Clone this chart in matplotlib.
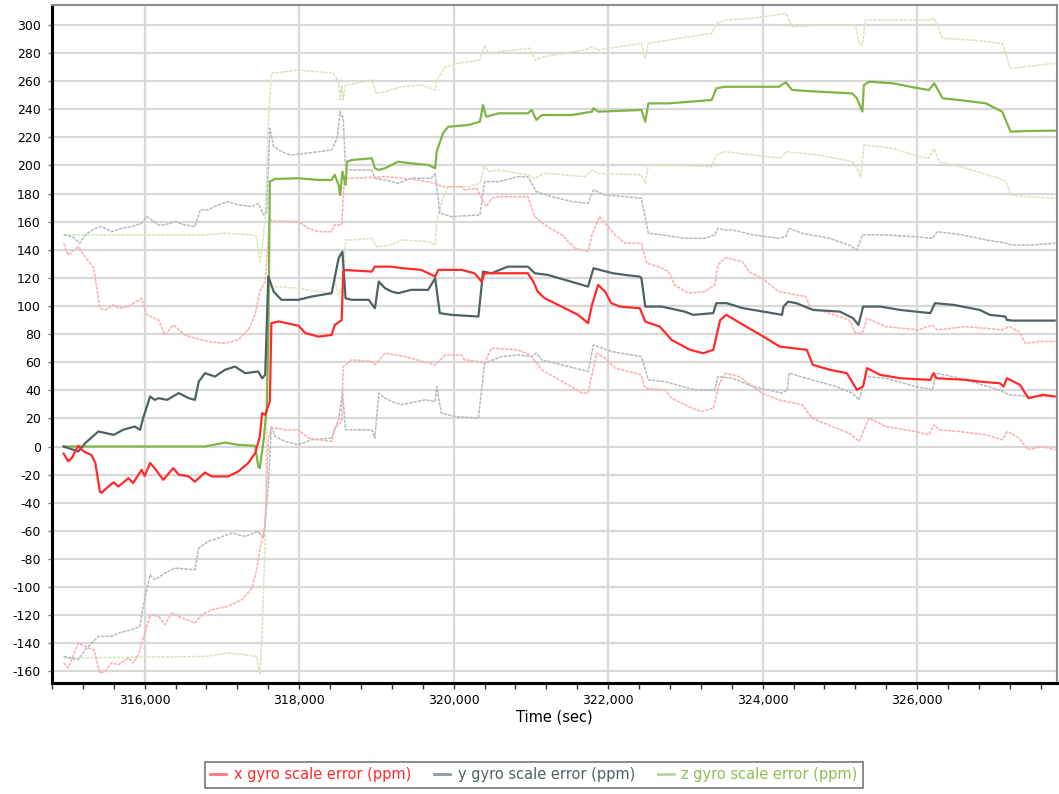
import matplotlib
matplotlib.use("Agg")
import matplotlib.pyplot as plt
import matplotlib.ticker as mticker
from matplotlib.lines import Line2D

plt.rcParams["axes.unicode_minus"] = False

# x gyro scale error (ppm): estimate and +/- bounds
xm_t = [314950, 315010, 315060, 315090, 315140, 315210, 315310, 315360, 315420, 315440,
        315530, 315600, 315660, 315790, 315850, 315960, 316000, 316070, 316130, 316240,
        316370, 316440, 316570, 316650, 316780, 316870, 317080, 317210, 317340, 317430,
        317490, 317520, 317560, 317620, 317640, 317730, 317990, 318080, 318250, 318420,
        318460, 318550, 318570, 318600, 318940, 318980, 319200, 319320, 319580, 319760,
        319800, 320100, 320270, 320360, 320400, 320960, 321030, 321090, 321180, 321440,
        321610, 321740, 321790, 321870, 321960, 322040, 322150, 322410, 322480, 322670,
        322820, 323060, 323230, 323360, 323450, 323530, 323750, 324010, 324220, 324570,
        324650, 324870, 325090, 325220, 325300, 325350, 325520, 325780, 326170, 326210,
        326250, 326640, 326810, 327070, 327120, 327160, 327330, 327440, 327630, 327780]
xm_v = [-5, -10.5, -8, -4.5, 0.5, -3.5, -6, -11.6, -32, -33,
        -28.5, -25.5, -28.5, -22.5, -26, -16.6, -21, -11.8, -15.4, -23.7,
        -15.4, -20, -21.3, -25, -18.5, -21.3, -21.3, -17.8, -11.8, -4.7,
        7, 23.8, 22.5, 32, 87.8, 89, 86, 80.7, 78.2, 79.4,
        86.5, 90, 124.5, 125.6, 124.5, 128, 128, 127, 125.7, 121,
        125.7, 125.7, 123.3, 117.4, 123.3, 123.3, 117.4, 110, 105.5, 98.4,
        93.7, 87.8, 100.8, 115, 110.2, 102, 99.6, 98.4, 88.9, 85.3,
        75.9, 68.8, 66.4, 68.8, 90, 93.7, 86.5, 78.2, 71.1, 68.8,
        58.1, 54.6, 52.2, 40.3, 42.7, 55.8, 51, 48.6, 47.4, 52.2,
        48.6, 47.4, 46.2, 45, 42.7, 48.6, 43.9, 34.4, 36.8, 35.6]

xu_t = [314950, 315010, 315140, 315230, 315340, 315420, 315490, 315600, 315660, 315790,
        315960, 316030, 316180, 316260, 316370, 316520, 316650, 316820, 317040, 317210,
        317340, 317430, 317490, 317560, 317620, 317640, 317990, 318120, 318250, 318420,
        318460, 318550, 318585, 318680, 319110, 319320, 319540, 319760, 319860, 320100,
        320140, 320300, 320360, 320420, 320490, 320580, 320960, 321050, 321180, 321400,
        321570, 321740, 321790, 321890, 321960, 322090, 322220, 322430, 322500, 322650,
        322780, 322860, 323040, 323250, 323380, 323420, 323510, 323560, 323740, 323820,
        323990, 324210, 324560, 324620, 324860, 325120, 325200, 325290, 325350, 325590,
        326020, 326200, 326260, 326630, 327100, 327190, 327320, 327400, 327580, 327790]
xu_v = [144.7, 136.3, 142.2, 135, 126.9, 98.4, 97.2, 100.8, 98.4, 99.6,
        105.5, 93.7, 90.1, 79.4, 86.5, 79.4, 77.1, 74.7, 73.5, 75.9,
        83, 93.7, 110.2, 117.4, 162.4, 160.5, 160, 155.3, 152.9, 152.9,
        157.7, 157.7, 190.9, 190.9, 192, 190.9, 189.7, 187.3, 184.9, 184.9,
        182.6, 183.8, 176.7, 170.7, 176.7, 177.8, 177.8, 163.6, 157.7, 150.6,
        141.1, 138.7, 150.6, 163.6, 158.9, 150.6, 144.7, 144.7, 130.4, 128,
        124.5, 115, 109.1, 110.2, 115, 129.2, 134, 134, 131.6, 124.5,
        119.8, 110.2, 106.7, 98.4, 94.9, 90.1, 80.7, 80.7, 91.3, 85.3,
        83, 86.5, 83, 85.3, 83, 85.3, 81.8, 73.5, 74.7, 74.7]

xl_t = [314950, 315010, 315080, 315140, 315270, 315340, 315420, 315490, 315570, 315660,
        315790, 315850, 315920, 315960, 316030, 316070, 316180, 316260, 316350, 316480,
        316650, 316740, 316870, 317080, 317260, 317390, 317450, 317490, 317560, 317600,
        317640, 317730, 317820, 317990, 318120, 318250, 318420, 318460, 318550, 318570,
        318680, 318940, 318980, 319110, 319370, 319760, 319890, 320100, 320140, 320320,
        320400, 320490, 320830, 320990, 321140, 321480, 321660, 321740, 321850, 321960,
        322090, 322430, 322480, 322730, 322820, 323080, 323210, 323360, 323440, 323520,
        323690, 323870, 323990, 324210, 324510, 324640, 324900, 325120, 325250, 325310,
        325380, 325590, 325980, 326150, 326220, 326280, 326540, 326890, 327100, 327170,
        327320, 327430, 327620, 327790]
xl_v = [-154, -157.6, -148.2, -139.9, -143.4, -144.6, -161.2, -160, -154, -155.3,
        -150.5, -154.1, -148.2, -139.9, -128, -119.7, -120.9, -126.8, -118.5, -122,
        -125.6, -119.7, -116.1, -113.8, -109, -100.7, -87.7, -73.5, -55.7, 4.8,
        13, 13, 11.9, 11.9, 6, 4.8, 3.6, 13, 17.8, 56.9,
        61.7, 60.5, 58.1, 66.4, 64, 58.1, 65.2, 65.2, 61.7, 60.5,
        59.3, 70, 68.8, 65.2, 54.6, 43.9, 38, 38, 66.4, 62.9,
        55.8, 51, 41.5, 40.3, 34.4, 27.3, 24.9, 27.3, 45, 52.2,
        49.8, 42.7, 38, 33.2, 29.7, 20.2, 14.2, 9.5, 3.6, 11.9,
        20.2, 14.2, 10.7, 8.3, 15.4, 11.9, 10.7, 8.3, 4.8, 10.7,
        6, -2.3, 0, -2.3]

# y gyro scale error (ppm)
ym_t = [314950, 315140, 315230, 315400, 315600, 315720, 315870, 315940, 315980, 316070,
        316130, 316180, 316290, 316440, 316570, 316650, 316700, 316780, 316910, 317040,
        317170, 317300, 317470, 317520, 317560, 317600, 317670, 317770, 317990, 318160,
        318420, 318510, 318560, 318600, 318680, 318900, 318980, 319030, 319110, 319200,
        319280, 319450, 319670, 319760, 319820, 319970, 320320, 320380, 320490, 320700,
        320960, 321050, 321220, 321440, 321740, 321810, 321890, 322060, 322220, 322410,
        322430, 322480, 322690, 322990, 323100, 323360, 323400, 323530, 323750, 324010,
        324250, 324270, 324330, 324440, 324650, 325000, 325170, 325240, 325300, 325520,
        325780, 326170, 326230, 326470, 326810, 326940, 327140, 327160, 327240, 327500,
        327780]
ym_v = [0, -3.5, 2.4, 10.7, 8.3, 11.9, 14.2, 11.9, 20.2, 35.6,
        33.2, 34.4, 33.2, 38, 34.4, 33.2, 46.2, 52.2, 49.8, 54.6,
        56.9, 52.2, 53.4, 48.6, 51, 121, 110.2, 104.4, 104.4, 106.7,
        109.1, 134, 138.7, 105.5, 104.4, 104.4, 98.4, 117.4, 112.7, 110.2,
        109.1, 111.5, 111.5, 119.8, 94.9, 93.7, 92.5, 124.5, 123.3, 128,
        128, 123.3, 122.1, 118.6, 113.8, 126.9, 125.7, 123.3, 122.1, 120.9,
        119.8, 99.6, 99.6, 96, 93.7, 94.9, 102, 102, 98.4, 96,
        93.7, 99.6, 103.1, 101.9, 97.2, 96, 91.3, 86.5, 99.6, 99.6,
        97.2, 94.9, 102, 100.8, 97.2, 93.7, 92.5, 90.1, 89.6, 89.6,
        89.6]

yu_t = [314950, 315060, 315160, 315230, 315360, 315440, 315570, 315700, 315830, 315960,
        316030, 316090, 316180, 316260, 316390, 316520, 316650, 316720, 316820, 316950,
        317080, 317210, 317390, 317470, 317540, 317580, 317620, 317670, 317820, 317900,
        318080, 318250, 318420, 318490, 318530, 318570, 318600, 318680, 318940, 318980,
        319110, 319200, 319280, 319450, 319710, 319760, 319820, 319970, 320340, 320400,
        320580, 320830, 320960, 321070, 321270, 321530, 321740, 321810, 321960, 322220,
        322430, 322520, 322690, 322990, 323250, 323380, 323420, 323510, 323610, 323870,
        324210, 324300, 324340, 324510, 324860, 325120, 325220, 325290, 325590, 325940,
        326200, 326260, 326580, 326890, 327150, 327210, 327490, 327790]
yu_v = [150.6, 149.4, 144.7, 150.6, 155.3, 156.5, 152.9, 155.3, 156.5, 158.9,
        163.6, 161.2, 157.7, 157.7, 160, 157.7, 156.5, 168.4, 168.4, 171.9,
        174.3, 171.9, 170.7, 173.1, 164.8, 167.1, 226.5, 213.4, 208.7, 207.5,
        208.7, 209.8, 211, 219.3, 238.3, 233.6, 198, 196.8, 196.8, 190.9,
        189.7, 188.5, 187.3, 190.9, 190.9, 194.5, 166, 163.6, 164.8, 188.5,
        188.5, 192, 192, 181.4, 177.8, 174.3, 173.1, 182.6, 179, 177.8,
        176.7, 151.8, 150.6, 148.2, 148.2, 150.6, 155.3, 154.1, 154.1, 150.6,
        148.2, 149.4, 155.3, 151.8, 148.2, 143.4, 139.9, 150.6, 150.6, 149.4,
        148.2, 152.9, 150.6, 147, 144.7, 143.4, 143.4, 144.7]

yl_t = [314950, 315140, 315230, 315400, 315570, 315660, 315830, 315940, 315980, 316070,
        316130, 316260, 316390, 316650, 316700, 316820, 316950, 317130, 317300, 317470,
        317540, 317600, 317640, 317690, 317820, 317990, 318160, 318420, 318510, 318560,
        318600, 318940, 318980, 319030, 319110, 319200, 319320, 319630, 319760, 319780,
        319840, 320020, 320320, 320400, 320620, 320830, 321010, 321070, 321140, 321400,
        321740, 321810, 322040, 322430, 322520, 322730, 323120, 323380, 323420, 323610,
        323870, 324250, 324320, 324340, 324640, 324950, 325160, 325250, 325330, 325590,
        325980, 326200, 326240, 326460, 326840, 327060, 327150, 327190, 327450, 327790]
yl_v = [-149.4, -151.7, -144.6, -135.1, -135.1, -132.7, -130.4, -128, -113.8, -91.3,
        -94.8, -90.1, -86.5, -87.7, -72.3, -67.6, -65.2, -61.6, -64, -60.5,
        -65.2, -28.5, 14.2, 7.1, 3.6, 1.2, 4.8, 6, 19, 39.1,
        11.9, 11.9, 6, 38, 34.4, 32, 29.7, 33.2, 32, 42.7,
        23.8, 21.3, 20.2, 59.3, 64, 65.2, 64, 66.4, 61.7, 58.1,
        53.4, 72.3, 67.6, 64, 47.4, 46.2, 40.3, 40.3, 49.8, 48.6,
        42.7, 38, 40.3, 52.2, 47.4, 42.7, 38, 33.2, 49.8, 48.6,
        42.7, 40.3, 52.2, 49.8, 43.9, 40.3, 38, 36.8, 35.6, 35.6]

# z gyro scale error (ppm)
zm_t = [314950, 316780, 317040, 317210, 317430, 317470, 317490, 317540, 317580, 317600,
        317620, 317690, 317990, 318250, 318420, 318460, 318510, 318530, 318560, 318600,
        318620, 318680, 318940, 318980, 319030, 319110, 319280, 319450, 319670, 319760,
        319780, 319860, 319930, 320190, 320340, 320380, 320420, 320580, 320960, 321010,
        321070, 321140, 321530, 321790, 321810, 321870, 322430, 322480, 322520, 322780,
        323340, 323400, 323510, 323950, 324210, 324300, 324380, 324730, 325160, 325220,
        325290, 325310, 325380, 325680, 326020, 326150, 326220, 326330, 326540, 326890,
        327100, 327210, 327400, 327790]
zm_v = [0, 0, 2.8, 1.2, 0.5, -14.2, -15.4, 4.8, 28.5, 75.9,
        188.5, 190.4, 190.9, 189.7, 189.7, 193.3, 186.1, 179, 195.6, 186.1,
        202.7, 203.9, 205.1, 198, 196.8, 198, 202.7, 201.5, 200.4, 198,
        209.8, 222.8, 227.6, 228.8, 231.2, 243, 234.7, 237.1, 237.1, 239.5,
        232.4, 235.9, 235.9, 238.3, 240.7, 238.3, 239.5, 231.2, 244.2, 244.2,
        246.6, 254.9, 256, 256, 256, 259.2, 253.7, 252.5, 251.3, 247.8,
        238.3, 257.3, 259.6, 258.5, 254.9, 253.7, 258.5, 247.8, 246.6, 244.2,
        238.3, 224, 224.5, 224.8]

zu_t = [314950, 316780, 317040, 317390, 317450, 317490, 317520, 317560, 317600, 317640,
        317820, 317990, 318250, 318440, 318510, 318530, 318550, 318570, 318600, 318680,
        318940, 319000, 319110, 319320, 319580, 319760, 319780, 319890, 320060, 320340,
        320400, 320450, 320580, 320990, 321050, 321180, 321700, 321790, 321870, 322430,
        322480, 322520, 322780, 323340, 323400, 323510, 323870, 324300, 324380, 324730,
        325200, 325250, 325290, 325330, 325760, 326150, 326220, 326330, 326710, 327100,
        327210, 327400, 327790]
zu_v = [150.6, 150.6, 151.8, 150.6, 149.4, 131.6, 141.1, 162.4, 231.2, 265.6,
        266.7, 267.9, 266.7, 265.6, 259.6, 246.6, 257.3, 246.6, 257.3, 257.8,
        260.8, 251.3, 252.5, 256, 257.3, 253.7, 260.8, 270.3, 272.7, 275.1,
        285.7, 279.8, 281, 283.4, 275.1, 277.5, 282.2, 284.6, 282.2, 286.9,
        276.3, 286.9, 289.3, 294, 301.1, 303.5, 304.7, 308.2, 298.7, 300,
        300, 286.9, 285.7, 303.5, 303.5, 303.5, 304.7, 290.4, 289.3, 286.9,
        269.1, 270.3, 272.7]

zl_t = [314950, 316780, 317080, 317300, 317450, 317490, 317520, 317560, 317600, 317670,
        317990, 318250, 318420, 318460, 318510, 318570, 318600, 318680, 318940, 319000,
        319200, 319320, 319670, 319760, 319780, 319860, 319930, 320190, 320340, 320400,
        320450, 320580, 320960, 321050, 321180, 321700, 321790, 321870, 322430, 322480,
        322520, 322780, 323340, 323400, 323510, 323870, 324230, 324300, 324730, 325160,
        325220, 325270, 325310, 325680, 326020, 326150, 326220, 326280, 326630, 327060,
        327150, 327210, 327400, 327790]
zl_v = [-150.5, -149.4, -147, -148.2, -149.4, -162.4, -132.7, -66, 113.8, 113.8,
        112.7, 110.2, 109.1, 118.6, 107.9, 114, 147, 147, 148.2, 142.2,
        143.4, 147, 145.8, 143.4, 160, 176.7, 184.9, 184.9, 187.3, 200.4,
        195.6, 196.8, 193.3, 190.9, 194.5, 192, 196.8, 194.5, 193.3, 187.3,
        200.4, 200.4, 199.2, 207.5, 209.8, 207.5, 205.1, 209.8, 207.5, 202.7,
        198, 192, 214.6, 212.2, 206.3, 205.1, 212.2, 202.7, 198, 190.9,
        188.5, 179, 177.8, 176.7]

labels = ["x gyro scale error (ppm)", "y gyro scale error (ppm)", "z gyro scale error (ppm)"]

red, red_lt = "#ff2b2b", "#ffadad"
gry, gry_lt = "#4e6266", "#b2bdc0"
grn, grn_lt = "#7fb544", "#d5e6bd"
dots = (0, (2.2, 0.7))

fig = plt.figure(figsize=(10.59, 7.94), dpi=100)
ax = fig.add_axes([52 / 1059, 1 - 683 / 794, 1005 / 1059, 678 / 794])

# bounds first, estimates on top
ax.plot(zu_t, zu_v, color=grn_lt, lw=1.1, ls=dots)
ax.plot(zl_t, zl_v, color=grn_lt, lw=1.1, ls=dots)
ax.plot(yu_t, yu_v, color=gry_lt, lw=1.1, ls=dots)
ax.plot(yl_t, yl_v, color=gry_lt, lw=1.1, ls=dots)
ax.plot(xu_t, xu_v, color=red_lt, lw=1.1, ls=dots)
ax.plot(xl_t, xl_v, color=red_lt, lw=1.1, ls=dots)
ax.plot(zm_t, zm_v, color=grn, lw=1.6)
ax.plot(ym_t, ym_v, color=gry, lw=1.6)
ax.plot(xm_t, xm_v, color=red, lw=1.6)

ax.set_xlim(314800, 327810)
ax.set_ylim(-168.3, 314.2)
ax.xaxis.set_major_locator(mticker.MultipleLocator(2000))
ax.xaxis.set_minor_locator(mticker.MultipleLocator(400))
ax.xaxis.set_major_formatter(mticker.FuncFormatter(lambda v, p: f"{int(v):,}"))
ax.yaxis.set_major_locator(mticker.MultipleLocator(20))
ax.grid(True, color="#d8d8d8", lw=1.6)
ax.set_axisbelow(True)

for s in ("top", "right"):
    ax.spines[s].set_color("#8c8c8c")
    ax.spines[s].set_linewidth(1.5)
ax.spines["left"].set_linewidth(2.2)
ax.spines["bottom"].set_linewidth(2.2)

ax.tick_params(axis="x", which="both", direction="out", length=4, width=1,
               color="#333333", labelsize=9, pad=4)
ax.tick_params(axis="y", which="major", length=3, width=1, color="#777777",
               labelsize=9, pad=5)
ax.set_xlabel("Time (sec)", fontsize=10.5, labelpad=2)

handles = [Line2D([], [], color=c, lw=2) for c in ("#ff7a7a", "#8a9a9e", "#b9d69b")]
leg = fig.legend(handles, labels, loc="center", bbox_to_anchor=(534 / 1059, 1 - 775 / 794),
                 ncol=3, fontsize=10.5, frameon=True, fancybox=False, handlelength=1.1,
                 handletextpad=0.5, columnspacing=1.6, borderpad=0.35, borderaxespad=0,
                 labelcolor=[red, gry, "#8cbf55"])
leg.get_frame().set_edgecolor("#555555")
leg.get_frame().set_linewidth(1.2)

fig.savefig("out.png", dpi=100)
